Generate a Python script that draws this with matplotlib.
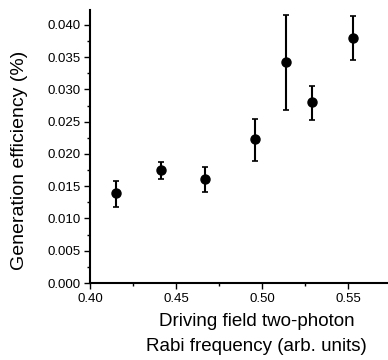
import matplotlib
matplotlib.use("Agg")
import matplotlib.pyplot as plt
from matplotlib.ticker import MultipleLocator

plt.rcParams['font.family'] = ['Liberation Sans', 'DejaVu Sans']

# 数据
rabi = [0.415, 0.441, 0.467, 0.496, 0.514, 0.529, 0.553]
efficiency = [0.0139, 0.0175, 0.0161, 0.0223, 0.0342, 0.0281, 0.0380]
err_low = [0.0117, 0.0161, 0.0141, 0.0189, 0.0268, 0.0252, 0.0345]
err_high = [0.0158, 0.0187, 0.0180, 0.0254, 0.0416, 0.0305, 0.0414]

yerr = [[e - lo for e, lo in zip(efficiency, err_low)],
        [hi - e for e, hi in zip(efficiency, err_high)]]

fig = plt.figure(figsize=(3.88, 3.60), dpi=100)
ax = fig.add_axes([90 / 388, 77 / 360, 327 / 388, 273 / 360])

ax.errorbar(rabi, efficiency, yerr=yerr, fmt='o', color='black',
            markersize=6.5, elinewidth=1.5, capsize=2, capthick=1.2)

ax.set_xlim(0.40, 0.59)
ax.set_ylim(0.0, 0.0423)
ax.xaxis.set_major_locator(MultipleLocator(0.05))
ax.xaxis.set_minor_locator(MultipleLocator(0.025))
ax.yaxis.set_major_locator(MultipleLocator(0.005))
ax.yaxis.set_minor_locator(MultipleLocator(0.0025))
ax.xaxis.set_major_formatter(plt.FormatStrFormatter('%.2f'))
ax.yaxis.set_major_formatter(plt.FormatStrFormatter('%.3f'))

ax.spines['top'].set_visible(False)
ax.spines['right'].set_visible(False)
ax.spines['left'].set_linewidth(1.5)
ax.spines['bottom'].set_linewidth(1.5)
ax.tick_params(which='major', direction='out', length=4, width=1, labelsize=9.5, pad=3)
ax.tick_params(which='minor', direction='out', length=2, width=1)

ax.set_xlabel("Driving field two-photon\nRabi frequency (arb. units)", fontsize=13.5,
              linespacing=1.65, va='top')
ax.xaxis.set_label_coords(0.51, -0.11)
ax.set_ylabel("Generation efficiency (%)", fontsize=14)
ax.yaxis.set_label_coords(-0.19, 0.45)

fig.savefig("out.png", dpi=100)
